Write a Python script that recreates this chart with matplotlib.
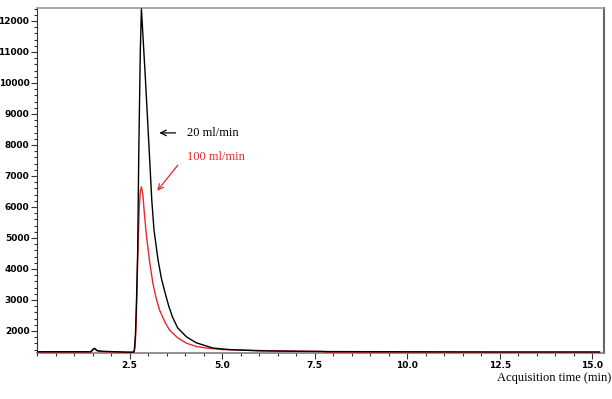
import matplotlib
matplotlib.use('Agg')
import matplotlib.pyplot as plt
from matplotlib.ticker import MultipleLocator, FixedLocator, FormatStrFormatter

# chromatogram traces (time in min, counts)
t_20 = [0, 1.45, 1.52, 1.56, 1.62, 1.75, 2.0, 2.4, 2.6, 2.63, 2.66, 2.69, 2.72, 2.75, 2.79, 2.82,
        2.93, 3.03, 3.10, 3.16, 3.27, 3.36, 3.46, 3.56, 3.66, 3.8, 4.04, 4.3, 4.75, 5.2,
        6.0, 7.0, 8.0, 10.0, 12.5, 15.2]
i_20 = [1330, 1330, 1420, 1440, 1370, 1345, 1335, 1320, 1315, 1380, 1900, 3100, 4610, 7840, 11000, 12390,
        10100, 7840, 6230, 5260, 4290, 3700, 3230, 2800, 2450, 2100, 1810, 1620, 1450, 1400,
        1360, 1345, 1335, 1330, 1325, 1325]

t_100 = [0, 1.45, 1.52, 1.56, 1.62, 1.75, 2.0, 2.4, 2.62, 2.65, 2.68, 2.72, 2.76, 2.79, 2.82,
         2.86, 2.90, 2.95, 3.04, 3.13, 3.22, 3.31, 3.45, 3.58, 3.8, 4.03, 4.3, 4.58, 5.0, 6.0,
         7.0, 7.75, 7.8, 10.0, 12.5, 15.2]
i_100 = [1320, 1320, 1400, 1430, 1360, 1335, 1325, 1310, 1310, 1500, 2260, 4300, 5900, 6500, 6650,
         6400, 5800, 5150, 4250, 3540, 3050, 2680, 2300, 2030, 1780, 1610, 1500, 1450, 1400, 1370,
         1350, 1340, 1294, 1294, 1294, 1294]

x_ticks = [2.5, 5.0, 7.5, 10.0, 12.5, 15.0]
y_ticks = [2000, 3000, 4000, 5000, 6000, 7000, 8000, 9000, 10000, 11000, 12000]

fig = plt.figure(figsize=(6.12, 3.99), dpi=100)
ax = fig.add_axes([0.0605, 0.1153, 0.9265, 0.8647])

ax.plot(t_100, i_100, color='#e8282b', lw=1.0, zorder=3)
ax.plot(t_20, i_20, color='black', lw=1.0, zorder=4)

ax.set_xlim(0, 15.32)
ax.set_ylim(1290, 12420)

ax.xaxis.set_major_locator(FixedLocator(x_ticks))
ax.xaxis.set_minor_locator(MultipleLocator(0.5))
ax.xaxis.set_major_formatter(FormatStrFormatter('%.1f'))
ax.yaxis.set_major_locator(FixedLocator(y_ticks))
ax.yaxis.set_minor_locator(MultipleLocator(200))

ax.tick_params(axis='both', which='major', length=4, width=0.8, color='#333333',
               labelsize=6.5, pad=1.5)
ax.tick_params(axis='both', which='minor', length=2.5, width=0.8, color='#333333')
for lab in ax.get_xticklabels() + ax.get_yticklabels():
    lab.set_fontweight('bold')
    lab.set_family('DejaVu Sans')

ax.spines['top'].set_color('#9a9a9a')
ax.spines['top'].set_linewidth(1.2)
ax.spines['right'].set_color('#666666')
ax.spines['right'].set_linewidth(1.5)
ax.spines['left'].set_color('#333333')
ax.spines['bottom'].set_color('#8a7a7a')
ax.spines['bottom'].set_linewidth(1.2)

serif = 'Liberation Serif'
ax.annotate('', xy=(3.23, 8390), xytext=(3.82, 8390),
            arrowprops=dict(arrowstyle='->', color='black', lw=0.9))
ax.text(4.04, 8390, '20 ml/min', family=serif, fontsize=9, va='center', ha='left')
ax.annotate('', xy=(3.2, 6450), xytext=(3.85, 7420),
            arrowprops=dict(arrowstyle='->', color='#e8282b', lw=0.9))
ax.text(4.04, 7600, '100 ml/min', family=serif, fontsize=9, va='center', ha='left',
        color='#e8282b')

fig.text(0.998, 1 - 378 / 399, 'Acquisition time (min)', family=serif, fontsize=9,
         va='center', ha='right')

fig.savefig('out.png', dpi=100)
